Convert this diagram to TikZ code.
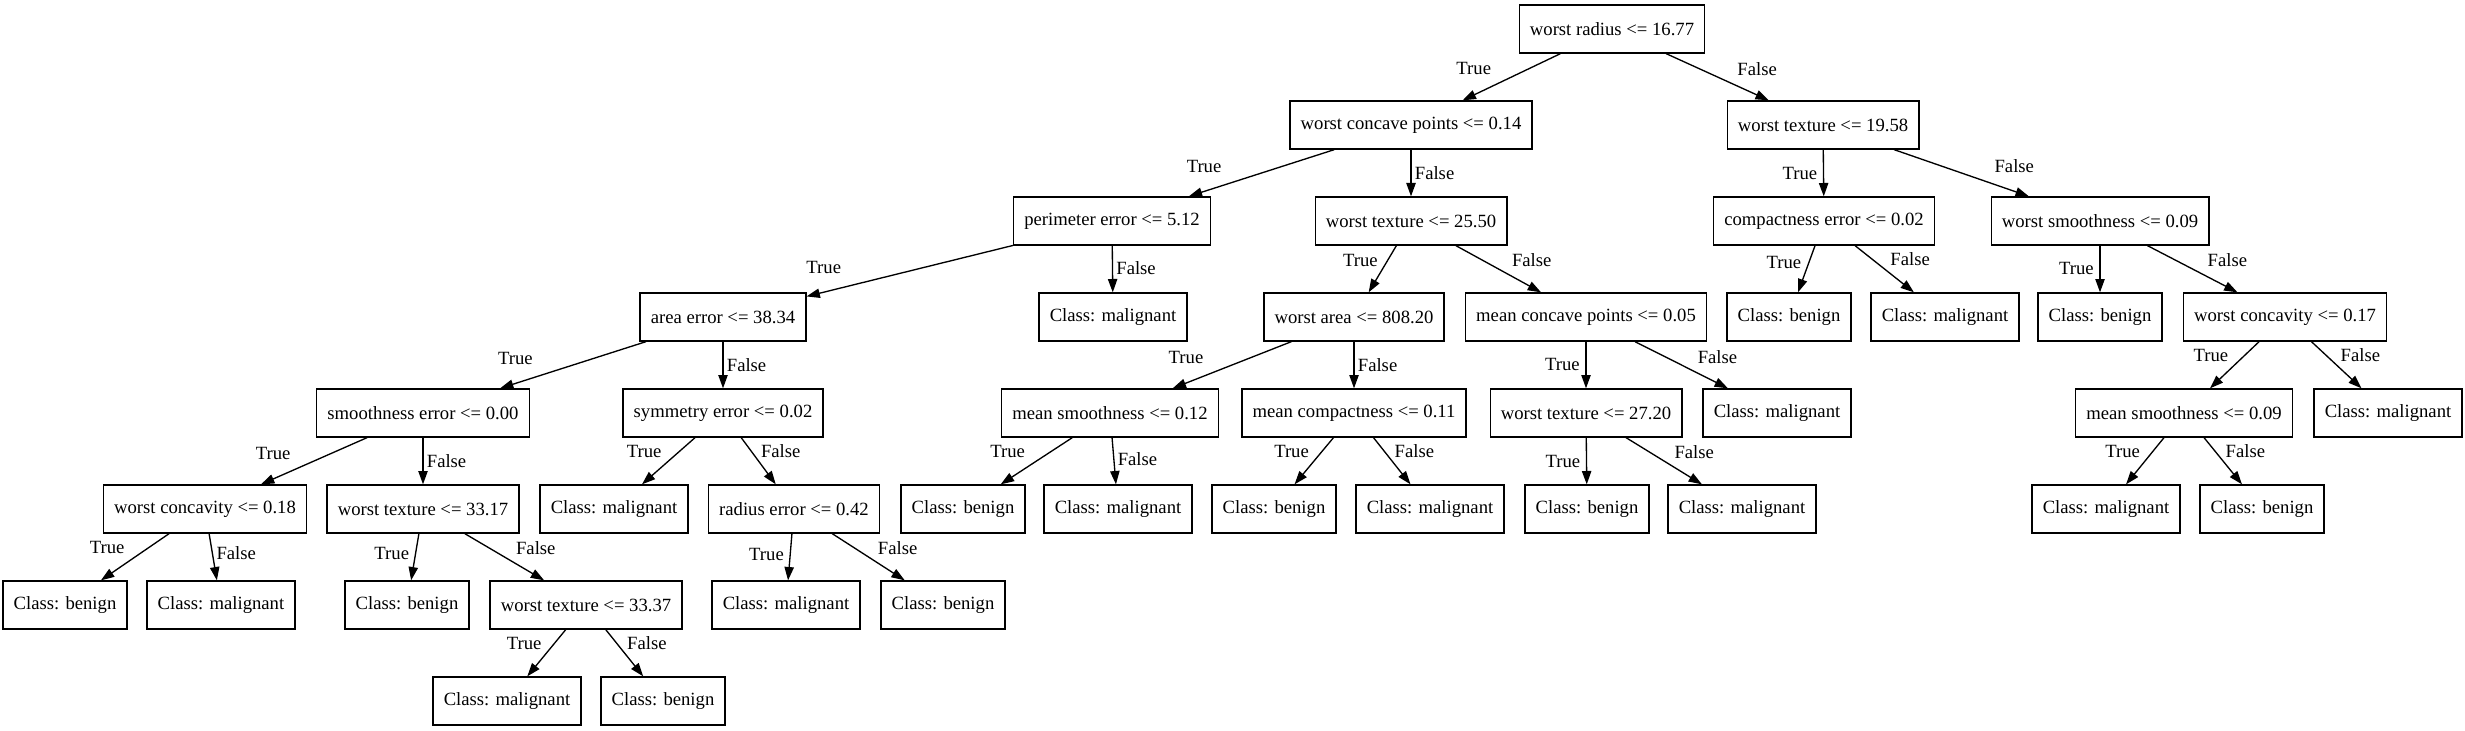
\documentclass[tikz,border=0pt]{standalone}
\usepackage{fontspec}
\setmainfont{Liberation Serif}
\usetikzlibrary{arrows.meta,calc}
\tikzset{
    box/.style={draw,line width=1pt,rectangle,minimum height=36pt,inner xsep=8pt,inner ysep=0pt,font=\fontsize{14pt}{16pt}\selectfont},
    edge/.style={line width=1pt,-{Triangle[length=10pt,width=7pt]}},
    lbl/.style={inner sep=0pt,font=\fontsize{14pt}{16pt}\selectfont}
}
\begin{document}
\begin{tikzpicture}[x=0.75pt,y=-0.75pt]
                \useasboundingbox (0,0) rectangle (2465,731);
                \node[box] (n0) at (1612,29) {worst radius <= 16.77};
                \node[box] (n1) at (1411,125) {worst concave points <= 0.14};
                \node[box] (n2) at (1823,125) {worst texture <= 19.58};
                \node[box] (n3) at (1112,221) {perimeter error <= 5.12};
                \node[box] (n4) at (1411,221) {worst texture <= 25.50};
                \node[box] (n5) at (1824,221) {compactness error <= 0.02};
                \node[box] (n6) at (2100,221) {worst smoothness <= 0.09};
                \node[box] (n7) at (723,317) {area error <= 38.34};
                \node[box] (n8) at (1113,317) {Class: malignant};
                \node[box] (n9) at (1354,317) {worst area <= 808.20};
                \node[box] (n10) at (1586,317) {mean concave points <= 0.05};
                \node[box] (n11) at (1789,317) {Class: benign};
                \node[box] (n12) at (1945,317) {Class: malignant};
                \node[box] (n13) at (2100,317) {Class: benign};
                \node[box] (n14) at (2285,317) {worst concavity <= 0.17};
                \node[box] (n15) at (423,413) {smoothness error <= 0.00};
                \node[box] (n16) at (723,413) {symmetry error <= 0.02};
                \node[box] (n17) at (1110,413) {mean smoothness <= 0.12};
                \node[box] (n18) at (1354,413) {mean compactness <= 0.11};
                \node[box] (n19) at (1586,413) {worst texture <= 27.20};
                \node[box] (n20) at (1777,413) {Class: malignant};
                \node[box] (n21) at (2184,413) {mean smoothness <= 0.09};
                \node[box] (n22) at (2388,413) {Class: malignant};
                \node[box] (n23) at (205,509) {worst concavity <= 0.18};
                \node[box] (n24) at (423,509) {worst texture <= 33.17};
                \node[box] (n25) at (614,509) {Class: malignant};
                \node[box] (n26) at (794,509) {radius error <= 0.42};
                \node[box] (n27) at (963,509) {Class: benign};
                \node[box] (n28) at (1118,509) {Class: malignant};
                \node[box] (n29) at (1274,509) {Class: benign};
                \node[box] (n30) at (1430,509) {Class: malignant};
                \node[box] (n31) at (1587,509) {Class: benign};
                \node[box] (n32) at (1742,509) {Class: malignant};
                \node[box] (n33) at (2106,509) {Class: malignant};
                \node[box] (n34) at (2262,509) {Class: benign};
                \node[box] (n35) at (65,605) {Class: benign};
                \node[box] (n36) at (221,605) {Class: malignant};
                \node[box] (n37) at (407,605) {Class: benign};
                \node[box] (n38) at (586,605) {worst texture <= 33.37};
                \node[box] (n39) at (786,605) {Class: malignant};
                \node[box] (n40) at (943,605) {Class: benign};
                \node[box] (n41) at (507,701) {Class: malignant};
                \node[box] (n42) at (663,701) {Class: benign};
                \foreach \p/\c in {n0/n1,n1/n3,n2/n5,n3/n7,n4/n9,n5/n11,n6/n13,n7/n15,n9/n17,n10/n19,n14/n21,n15/n23,n16/n25,n17/n27,n18/n29,n19/n31,n21/n33,n23/n35,n24/n37,n26/n39,n38/n41}{
                    \draw[edge] (\p) -- (\c) coordinate[pos=1] (h\c);
                    \node[lbl] (l\c) at ($(h\c)!25pt!45:(\p)$) {True};
                }
                \foreach \p/\c in {n0/n2,n1/n4,n2/n6,n3/n8,n4/n10,n5/n12,n6/n14,n7/n16,n9/n18,n10/n20,n14/n22,n15/n24,n16/n26,n17/n28,n18/n30,n19/n32,n21/n34,n23/n36,n24/n38,n26/n40,n38/n42}{
                    \draw[edge] (\p) -- (\c) coordinate[pos=1] (h\c);
                    \node[lbl] (l\c) at ($(h\c)!25pt!-45:(\p)$) {False};
                }
\end{tikzpicture}
\end{document}
